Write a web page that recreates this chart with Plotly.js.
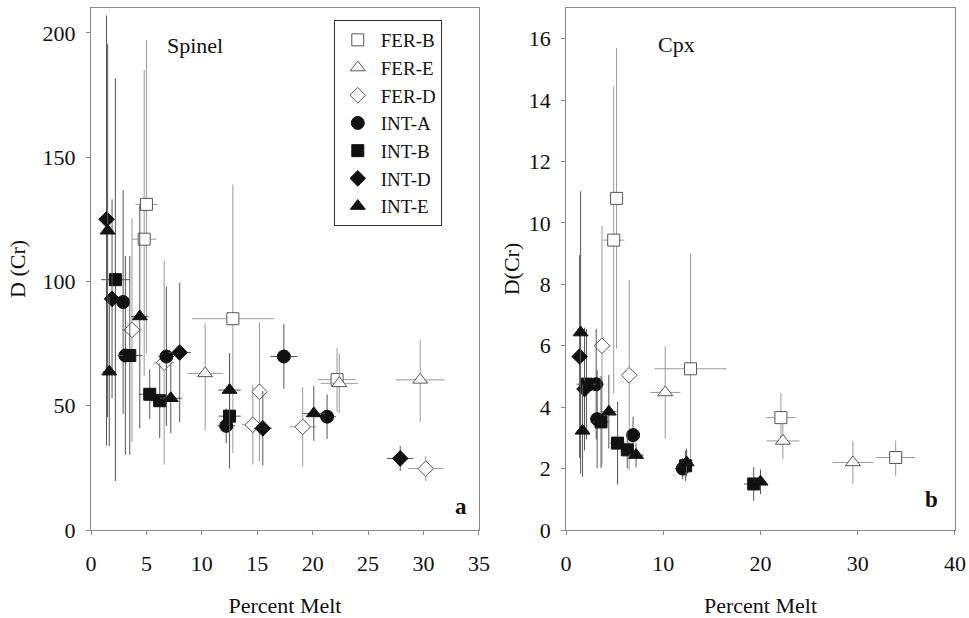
<!DOCTYPE html>
<html>
<head>
<meta charset="utf-8">
<script src="https://cdn.plot.ly/plotly-3.0.1.min.js"></script>
<style>html,body{margin:0;padding:0;background:#fff;}#chart{width:969px;height:618px;}</style>
</head>
<body>
<div id="chart"></div>
<script>
// ---------- Data: Spinel (panel a) ----------
const seriesNames = ["FER-B","FER-E","FER-D","INT-A","INT-B","INT-D","INT-E"];

const spFerB_x = [5.0, 4.8, 12.8, 22.2];
const spFerB_y = [131, 117, 85, 60.5];
const spFerB_eyp = [66, 68, 54, 13];
const spFerB_eym = [60, 55, 54, 13];
const spFerB_ex = [1.0, 1.1, 3.7, 1.7];

const spFerE_x = [10.3, 22.4, 29.7];
const spFerE_y = [63, 59, 60.4];
const spFerE_eyp = [20, 12, 16];
const spFerE_eym = [23, 12, 17];
const spFerE_ex = [1.6, 1.7, 2.2];

const spFerD_x = [3.7, 6.6, 15.2, 14.6, 19.1, 30.2];
const spFerD_y = [80.5, 67.3, 55.6, 42.3, 41.5, 24.7];
const spFerD_eyp = [45, 41, 28, 16, 16, 5];
const spFerD_eym = [45, 41, 28, 16, 16, 5];
const spFerD_ex = [0.9, 0.9, 0.6, 1.0, 1.2, 1.6];

const spIntA_x = [2.9, 3.1, 6.8, 12.2, 17.4, 21.3];
const spIntA_y = [91.7, 70.2, 69.8, 41.9, 69.8, 45.6];
const spIntA_eyp = [45, 40, 28, 7, 13, 9];
const spIntA_eym = [45, 40, 28, 7, 13, 9];
const spIntA_ex = [0.5, 0.6, 0.7, 0.8, 1.2, 0.8];

const spIntB_x = [2.2, 3.5, 5.3, 6.2, 12.5];
const spIntB_y = [100.7, 70.2, 54.6, 52, 45.8];
const spIntB_eyp = [81, 40, 10, 15, 21];
const spIntB_eym = [81, 40, 10, 15, 21];
const spIntB_ex = [1.3, 1.1, 1.0, 0.8, 1.0];

const spIntD_x = [1.4, 1.9, 8.0, 15.5, 27.9];
const spIntD_y = [125, 93, 71.4, 40.9, 28.8];
const spIntD_eyp = [82, 40, 28, 15, 5];
const spIntD_eym = [91, 40, 28, 15, 5];
const spIntD_ex = [0.3, 0.6, 1.0, 0.8, 1.2];

const spIntE_x = [1.5, 1.65, 4.4, 7.2, 12.5, 20.1];
const spIntE_y = [120.4, 63.7, 85.9, 53, 56.3, 46.9];
const spIntE_eyp = [75, 30, 45, 14, 15, 11];
const spIntE_eym = [75, 30, 45, 14, 15, 11];
const spIntE_ex = [0.3, 0.6, 0.8, 1.0, 1.0, 1.0];

// ---------- Data: Cpx (panel b) ----------
const cpFerB_x = [5.2, 4.9, 12.8, 22.1, 33.9];
const cpFerB_y = [10.8, 9.44, 5.25, 3.66, 2.36];
const cpFerB_eyp = [4.9, 5.0, 3.75, 0.8, 0.55];
const cpFerB_eym = [4.9, 5.0, 3.1, 0.8, 0.6];
const cpFerB_ex = [0.5, 1.1, 3.7, 1.5, 2.0];

const cpFerE_x = [10.2, 22.3, 29.5];
const cpFerE_y = [4.48, 2.9, 2.2];
const cpFerE_eyp = [1.5, 0.6, 0.7];
const cpFerE_eym = [1.5, 0.6, 0.7];
const cpFerE_ex = [1.55, 1.7, 2.1];

const cpFerD_x = [3.7, 6.5];
const cpFerD_y = [6.0, 5.04];
const cpFerD_eyp = [3.9, 3.1];
const cpFerD_eym = [3.9, 3.1];
const cpFerD_ex = [0.8, 0.8];

const cpIntA_x = [3.1, 3.2, 6.9, 12.0];
const cpIntA_y = [4.75, 3.61, 3.09, 2.0];
const cpIntA_eyp = [1.8, 1.6, 0.6, 0.35];
const cpIntA_eym = [1.8, 1.6, 0.6, 0.35];
const cpIntA_ex = [0.8, 0.6, 0.5, 0.8];

const cpIntB_x = [2.1, 3.6, 5.3, 6.3, 12.3, 19.3];
const cpIntB_y = [4.75, 3.52, 2.83, 2.61, 2.09, 1.5];
const cpIntB_eyp = [1.8, 1.5, 1.35, 0.6, 0.5, 0.55];
const cpIntB_eym = [1.8, 1.5, 1.35, 0.6, 0.5, 0.55];
const cpIntB_ex = [1.0, 0.8, 0.8, 0.6, 0.8, 1.0];

const cpIntD_x = [1.4, 1.9];
const cpIntD_y = [5.65, 4.59];
const cpIntD_eyp = [3.3, 2.0];
const cpIntD_eym = [3.3, 2.0];
const cpIntD_ex = [0.4, 0.6];

const cpIntE_x = [1.5, 1.7, 4.4, 7.2, 12.4, 20.0];
const cpIntE_y = [6.43, 3.23, 3.85, 2.44, 2.2, 1.57];
const cpIntE_eyp = [4.6, 1.5, 1.2, 0.4, 0.45, 0.4];
const cpIntE_eym = [4.6, 1.5, 1.2, 0.4, 0.45, 0.4];
const cpIntE_ex = [0.4, 0.6, 0.8, 0.8, 0.6, 0.6];

const spTicksX = [0, 5, 10, 15, 20, 25, 30, 35];
const cpTicksX = [0, 10, 20, 30, 40];
const spTicksY = [0, 50, 100, 150, 200];
const cpTicksY = [0, 2, 4, 6, 8, 10, 12, 14, 16];

// ---------- Styles ----------
const styles = {
  "FER-B": {symbol: "square", size: 12, fill: "#fff", line: "#555", err: "#9a9a9a"},
  "FER-E": {symbol: "triangle-up", size: 13, fill: "#fff", line: "#555", err: "#9a9a9a"},
  "FER-D": {symbol: "diamond", size: 12, fill: "#fff", line: "#555", err: "#9a9a9a"},
  "INT-A": {symbol: "circle", size: 13, fill: "#111", line: "#111", err: "#555"},
  "INT-B": {symbol: "square", size: 12, fill: "#111", line: "#111", err: "#555"},
  "INT-D": {symbol: "diamond", size: 12, fill: "#111", line: "#111", err: "#555"},
  "INT-E": {symbol: "triangle-up", size: 13, fill: "#111", line: "#111", err: "#555"}
};

function mk(name, x, y, eyp, eym, ex, xa, ya, show) {
  const s = styles[name];
  return {
    type: "scatter", mode: "markers", name: name, x: x, y: y,
    xaxis: xa, yaxis: ya, showlegend: show, legendgroup: name,
    marker: {symbol: s.symbol, size: s.size, color: s.fill, line: {color: s.line, width: 1}},
    error_y: {type: "data", symmetric: false, array: eyp, arrayminus: eym, color: s.err, thickness: 1, width: 0},
    error_x: {type: "data", array: ex, color: s.err, thickness: 1, width: 0},
    cliponaxis: false
  };
}

const traces = [
  mk("FER-B", spFerB_x, spFerB_y, spFerB_eyp, spFerB_eym, spFerB_ex, "x", "y", true),
  mk("FER-E", spFerE_x, spFerE_y, spFerE_eyp, spFerE_eym, spFerE_ex, "x", "y", true),
  mk("FER-D", spFerD_x, spFerD_y, spFerD_eyp, spFerD_eym, spFerD_ex, "x", "y", true),
  mk("INT-A", spIntA_x, spIntA_y, spIntA_eyp, spIntA_eym, spIntA_ex, "x", "y", true),
  mk("INT-B", spIntB_x, spIntB_y, spIntB_eyp, spIntB_eym, spIntB_ex, "x", "y", true),
  mk("INT-D", spIntD_x, spIntD_y, spIntD_eyp, spIntD_eym, spIntD_ex, "x", "y", true),
  mk("INT-E", spIntE_x, spIntE_y, spIntE_eyp, spIntE_eym, spIntE_ex, "x", "y", true),
  mk("FER-B", cpFerB_x, cpFerB_y, cpFerB_eyp, cpFerB_eym, cpFerB_ex, "x2", "y2", false),
  mk("FER-E", cpFerE_x, cpFerE_y, cpFerE_eyp, cpFerE_eym, cpFerE_ex, "x2", "y2", false),
  mk("FER-D", cpFerD_x, cpFerD_y, cpFerD_eyp, cpFerD_eym, cpFerD_ex, "x2", "y2", false),
  mk("INT-A", cpIntA_x, cpIntA_y, cpIntA_eyp, cpIntA_eym, cpIntA_ex, "x2", "y2", false),
  mk("INT-B", cpIntB_x, cpIntB_y, cpIntB_eyp, cpIntB_eym, cpIntB_ex, "x2", "y2", false),
  mk("INT-D", cpIntD_x, cpIntD_y, cpIntD_eyp, cpIntD_eym, cpIntD_ex, "x2", "y2", false),
  mk("INT-E", cpIntE_x, cpIntE_y, cpIntE_eyp, cpIntE_eym, cpIntE_ex, "x2", "y2", false)
];

const FONT = "'Liberation Serif', 'DejaVu Serif', serif";
const TXT = 22;
const axBase = {
  showgrid: false, zeroline: false, showline: true, linecolor: "#8a8a8a", linewidth: 1,
  mirror: true, ticks: "outside", ticklen: 4, tickcolor: "#8a8a8a",
  tickfont: {family: FONT, size: TXT, color: "#111"}, tickmode: "array"
};

const layout = {
  width: 969, height: 618,
  margin: {l: 91, r: 14, t: 8, b: 88},
  paper_bgcolor: "#fff", plot_bgcolor: "#fff",
  font: {family: FONT, color: "#111"},
  showlegend: true,
  legend: {
    x: 0.281, y: 0.977, xanchor: "left", yanchor: "top",
    bordercolor: "#333", borderwidth: 1, bgcolor: "#fff",
    font: {family: FONT, size: 19, color: "#111"},
    tracegroupgap: 0, itemsizing: "trace", itemwidth: 36
  },
  xaxis: Object.assign({}, axBase, {
    domain: [0, 0.449], range: [0, 35], anchor: "y", tickvals: spTicksX,
    ticklabelstandoff: 10,
    title: {text: "Percent Melt", font: {family: FONT, size: TXT, color: "#111"}, standoff: 24}
  }),
  yaxis: Object.assign({}, axBase, {
    domain: [0, 1], range: [0, 210], anchor: "x", tickvals: spTicksY,
    ticklabelstandoff: 6,
    title: {text: "D (Cr)", font: {family: FONT, size: TXT, color: "#111"}, standoff: 10}
  }),
  xaxis2: Object.assign({}, axBase, {
    domain: [0.5498, 1], range: [0, 40], anchor: "y2", tickvals: cpTicksX,
    ticklabelstandoff: 10,
    title: {text: "Percent Melt", font: {family: FONT, size: TXT, color: "#111"}, standoff: 24}
  }),
  yaxis2: Object.assign({}, axBase, {
    domain: [0, 1], range: [0, 17], anchor: "x2", tickvals: cpTicksY,
    ticklabelstandoff: 6,
    title: {text: "D(Cr)", font: {family: FONT, size: TXT, color: "#111"}, standoff: 2}
  }),
  annotations: [
    {text: "Spinel", xref: "x", yref: "y", x: 6.7, y: 195, xanchor: "left", yanchor: "middle", showarrow: false, font: {family: FONT, size: TXT, color: "#111"}},
    {text: "Cpx", xref: "x2", yref: "y2", x: 9.3, y: 15.8, xanchor: "left", yanchor: "middle", showarrow: false, font: {family: FONT, size: TXT, color: "#111"}},
    {text: "<b>a</b>", xref: "x", yref: "y", x: 33.4, y: 9.5, xanchor: "center", yanchor: "middle", showarrow: false, font: {family: FONT, size: 23, color: "#111"}},
    {text: "<b>b</b>", xref: "x2", yref: "y2", x: 37.6, y: 1.0, xanchor: "center", yanchor: "middle", showarrow: false, font: {family: FONT, size: 23, color: "#111"}}
  ]
};

Plotly.newPlot("chart", traces, layout, {displayModeBar: false, staticPlot: true});
</script>
</body>
</html>
